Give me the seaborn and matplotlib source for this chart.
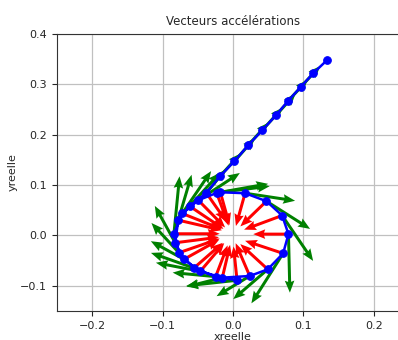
import matplotlib
matplotlib.use("Agg")
import matplotlib.pyplot as plt
import seaborn as sns
import pandas as pd

# trajectory points (circle turns then release along a line)
xs = [0.0057, -0.0247, -0.0555, -0.0768, -0.0839, -0.0721, -0.0493, -0.0232, -0.0180,
      0.0171, 0.0474, 0.0697, 0.0787, 0.0711, 0.0493, 0.0237, -0.0152, -0.0465,
      -0.0697, -0.0820, -0.0778, -0.0616, -0.0379,
      -0.0185, 0.0019, 0.0213, 0.0413, 0.0607, 0.0778, 0.0958, 0.1138, 0.1337]
ys = [-0.0889, -0.0817, -0.0646, -0.0343, 0.0033, 0.0435, 0.0698, 0.0843, 0.0856,
      0.0837, 0.0679, 0.0395, 0.0026, -0.0356, -0.0672, -0.0804, -0.0837, -0.0711,
      -0.0474, -0.0145, 0.0303, 0.0580, 0.0843,
      0.1173, 0.1469, 0.1785, 0.2082, 0.2378, 0.2661, 0.2938, 0.3215, 0.3478]

# green vectors (points 1..30)
gu = [-0.072, -0.061, -0.061, -0.039, 0.008, 0.041, 0.059, 0.073, 0.070,
      0.071, 0.062, 0.044, 0.002, -0.045, -0.049, -0.047, -0.051, -0.063,
      -0.047, -0.029, 0.019, 0.043, 0.028,
      0.029, 0.029, 0.029, 0.029, 0.028, 0.028, 0.028]
gv = [-0.011, 0.008, 0.030, 0.059, 0.114, 0.084, 0.054, 0.018, 0.012,
      -0.015, -0.055, -0.090, -0.116, -0.099, -0.059, -0.040, -0.018, 0.017,
      0.036, 0.073, 0.090, 0.066, 0.047,
      0.045, 0.046, 0.045, 0.045, 0.043, 0.042, 0.042]

# red acceleration vectors (circle points only)
ru = [-0.005, 0.017, 0.041, 0.058, 0.065, 0.056, 0.038, 0.017, 0.013,
      -0.013, -0.037, -0.054, -0.050, -0.054, -0.039, -0.020, 0.011, 0.034,
      0.050, 0.062, 0.062, 0.048, 0.028]
rv = [0.067, 0.062, 0.050, 0.028, 0.000, -0.031, -0.054, -0.065, -0.065,
      -0.065, -0.050, -0.028, 0.000, 0.025, 0.050, 0.065, 0.065, 0.056,
      0.039, 0.011, -0.020, -0.045, -0.056]

sns.set_style("ticks")
plt.rcParams['font.family'] = ['DejaVu Sans']

fig = plt.figure(figsize=(3.98, 3.40), dpi=100)
ax = fig.add_axes([0.143, 0.085, 0.885, 0.816])

n_g = len(gu)
n_r = len(ru)
ax.quiver(xs[:n_g], ys[:n_g], gu, gv, color="green", angles="xy",
          scale_units="xy", scale=1, width=0.0085, headwidth=3.2,
          headlength=4, headaxislength=3.6, zorder=2)
ax.quiver(xs[:n_r], ys[:n_r], ru, rv, color="red", angles="xy",
          scale_units="xy", scale=1, width=0.0085, headwidth=3.2,
          headlength=4, headaxislength=3.6, zorder=3)

df = pd.DataFrame({"xreelle": xs, "yreelle": ys})
sns.lineplot(data=df, x="xreelle", y="yreelle", sort=False, estimator=None,
             color="blue", marker="o", markersize=5.5, markeredgecolor="blue",
             linewidth=1.8, ax=ax, zorder=4)

ax.set_xlim(-0.25, 0.25)
ax.set_ylim(-0.15, 0.4)
ax.set_xticks([-0.2, -0.1, 0.0, 0.1, 0.2])
ax.set_yticks([-0.1, 0.0, 0.1, 0.2, 0.3, 0.4])
ax.grid(True, color="#c0c0c0", linewidth=0.9)
ax.set_axisbelow(True)
ax.tick_params(labelsize=8, length=3.5)
ax.set_title("Vecteurs accélérations", fontsize=8.5)
ax.set_xlabel("xreelle", fontsize=8, labelpad=1)
ax.set_ylabel("yreelle", fontsize=8, labelpad=2)
for s in ax.spines.values():
    s.set_color("#333333")

fig.savefig("out.png", dpi=100)
